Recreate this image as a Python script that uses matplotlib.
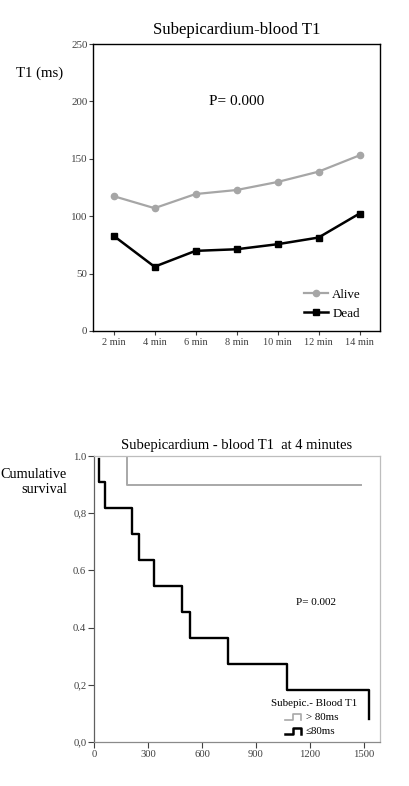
import matplotlib
matplotlib.use("Agg")
import matplotlib.pyplot as plt

plt.rcParams['font.family'] = ['Liberation Serif', 'DejaVu Serif']

# ---- data: top chart ----
time_labels = ["2 min", "4 min", "6 min", "8 min", "10 min", "12 min", "14 min"]
alive_t1 = [117.5, 107, 119.3, 122.8, 129.8, 138.8, 153]
dead_t1 = [83, 56, 69.8, 71.2, 75.6, 81.4, 102.3]
top_yticks = [0, 50, 100, 150, 200, 250]

# ---- data: bottom chart (Kaplan-Meier) ----
low_event_times = [30, 63, 209, 252, 335, 487, 535, 744, 1074, 1530]
low_survival = [0.909, 0.818, 0.727, 0.636, 0.545, 0.455, 0.364, 0.273, 0.182, 0.08]
high_times = [0, 183, 1481]
high_survival = [1.0, 0.9, 0.9]
km_xticks = [0, 300, 600, 900, 1200, 1500]
km_yticks = [0.0, 0.2, 0.4, 0.6, 0.8, 1.0]
km_yticklabels = ["0,0", "0,2", "0.4", "0.6", "0,8", "1.0"]

W, H = 409, 786
fig = plt.figure(figsize=(W / 100, H / 100), dpi=100)

def fx(px):
    return px / W

def fy(py):
    return 1 - py / H

tick_col = '#404040'

# ================= TOP =================
ax1 = fig.add_axes([fx(93), fy(331), fx(380) - fx(93), fy(44) - fy(331)])
x = list(range(len(time_labels)))
ax1.plot(x, alive_t1, color='#a6a6a6', lw=1.6, marker='o', ms=4.5, label='Alive')
ax1.plot(x, dead_t1, color='black', lw=1.8, marker='s', ms=4.5, label='Dead')
ax1.set_xlim(-0.5, 6.5)
ax1.set_ylim(0, 250)
ax1.set_xticks(x)
ax1.set_xticklabels(time_labels)
ax1.set_yticks(top_yticks)
for s in ax1.spines.values():
    s.set_color('black')
    s.set_linewidth(1.0)
ax1.tick_params(axis='x', labelsize=7.4, colors=tick_col, length=3, width=0.8, pad=2)
ax1.tick_params(axis='y', labelsize=7.9, colors=tick_col, length=3, width=0.8, pad=1)
for t in ax1.get_xticklabels() + ax1.get_yticklabels():
    t.set_color(tick_col)
ax1.set_title("Subepicardium-blood T1", fontsize=12.1, pad=7)
ax1.text(3, 200, "P= 0.000", fontsize=11, ha='center', va='center')
fig.text(fx(40), fy(73), "T1 (ms)", fontsize=10.6, ha='center', va='center')
leg = ax1.legend(loc='lower right', bbox_to_anchor=(fx(361), fy(320)),
                 bbox_transform=fig.transFigure, frameon=False, fontsize=9.4,
                 handlelength=1.9, handletextpad=0.3, borderpad=0,
                 borderaxespad=0, labelspacing=0.55)

# ================= BOTTOM =================
ax2 = fig.add_axes([fx(94), fy(742), fx(380) - fx(94), fy(456) - fy(742)])
ax2.plot([low_event_times[0]] + low_event_times, [0.99] + low_survival,
         drawstyle='steps-post', color='black', lw=1.7)
ax2.plot(high_times, high_survival, drawstyle='steps-post', color='#a8a8a8', lw=1.4)
ax2.set_xlim(0, 1589)
ax2.set_ylim(0, 1.0)
ax2.set_xticks(km_xticks)
ax2.set_yticks(km_yticks)
ax2.set_yticklabels(km_yticklabels)
for k, s in ax2.spines.items():
    s.set_linewidth(0.9)
    s.set_color('#bdbdbd')
ax2.spines['left'].set_color('#606060')
ax2.spines['bottom'].set_color('#8a8a8a')
ax2.tick_params(axis='both', labelsize=7.7, colors=tick_col, length=4, width=0.8, pad=1.5)
for t in ax2.get_xticklabels() + ax2.get_yticklabels():
    t.set_color(tick_col)
ax2.set_title("Subepicardium - blood T1  at 4 minutes", fontsize=10.5, pad=5)
ax2.text(1233, 0.487, "P= 0.002", fontsize=8, ha='center', va='center')
fig.text(fx(67), fy(482), "Cumulative\nsurvival", fontsize=10.3, ha='right',
         va='center', multialignment='right', linespacing=1.2)

# legend (drawn manually, SPSS-style step icons)
fig.text(fx(314), fy(703), "Subepic.- Blood T1", fontsize=7.9, ha='center', va='center')
def step_icon(y0, color, lw):
    xs = [fx(285), fx(293), fx(293), fx(301), fx(301)]
    ys = [fy(y0 + 3), fy(y0 + 3), fy(y0 - 3), fy(y0 - 3), fy(y0 + 3)]
    fig.add_artist(plt.Line2D(xs, ys, color=color, lw=lw, transform=fig.transFigure))
step_icon(717, '#a8a8a8', 1.2)
step_icon(731, 'black', 1.8)
fig.text(fx(306), fy(717), "> 80ms", fontsize=7.9, ha='left', va='center')
fig.text(fx(306), fy(731), "\u226480ms", fontsize=7.9, ha='left', va='center')

fig.savefig("out.png", dpi=100)
